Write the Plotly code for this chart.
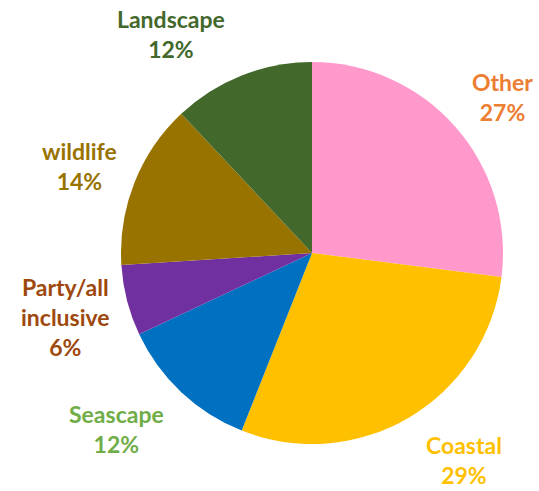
import math
import plotly.graph_objects as go

categories = ["Other", "Coastal", "Seascape", "Party/all<br>inclusive", "wildlife", "Landscape"]
values = [27, 29, 12, 6, 14, 12]
slice_colors = ["#FF99CC", "#FFC000", "#0070C0", "#7030A0", "#997300", "#43682B"]
label_colors = ["#ED7D31", "#FFC000", "#70AD47", "#9E480E", "#997300", "#43682B"]

W, H = 539, 491
cx, cy, r = 312, 253, 191
FS = 23
LINE = FS * 1.3

fig = go.Figure(go.Pie(
    labels=categories,
    values=values,
    sort=False,
    direction="clockwise",
    rotation=0,
    marker=dict(colors=slice_colors, line=dict(width=0)),
    textinfo="none",
    hoverinfo="label+percent",
    showlegend=False,
    domain=dict(x=[(cx - r) / W, (cx + r) / W], y=[(H - cy - r) / H, (H - cy + r) / H]),
    automargin=False,
))

# Data labels placed outside each slice, at the slice's mid angle
total = sum(values)
cum = 0
annotations = []
for lab, v, col in zip(categories, values, label_colors):
    mid = (cum + v / 2) / total * 2 * math.pi
    cum += v
    s, c = math.sin(mid), math.cos(mid)
    px, py = cx + r * s, cy - r * c
    nlines = lab.count("<br>") + 2
    h = nlines * LINE
    gap_x = 15
    x = px + (gap_x if s > 0 else -gap_x)
    y = py - c * (h / 2 + (15 if c > 0 else 20))
    pct = round(v / total * 100)
    annotations.append(dict(
        x=x / W, y=1 - y / H, xref="paper", yref="paper",
        xanchor="left" if s > 0 else "right", yanchor="middle",
        text=f"<b>{lab}<br>{pct}%</b>", showarrow=False, align="center",
        font=dict(family="Lato", size=FS, color=col),
    ))

fig.update_layout(
    width=W, height=H,
    margin=dict(l=0, r=0, t=0, b=0),
    paper_bgcolor="white", plot_bgcolor="white",
    annotations=annotations,
)
fig.write_html("out.html")
